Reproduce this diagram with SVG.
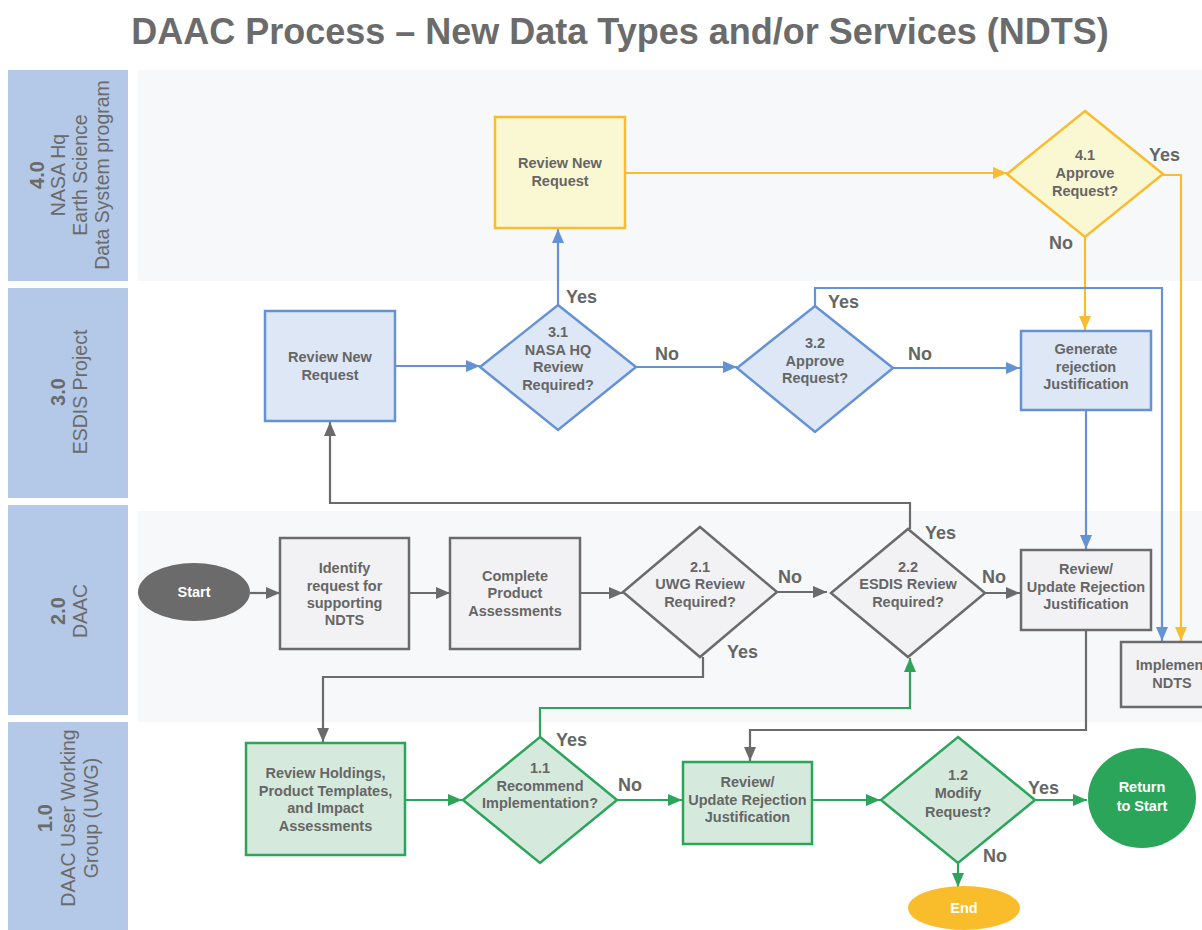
<svg xmlns="http://www.w3.org/2000/svg" width="1202" height="930" viewBox="0 0 1202 930">
<defs>
<style>
.title{font-family:"Liberation Sans",Arial,sans-serif;font-weight:bold;font-size:36px;fill:#6b6b6b}
.lane{fill:#b4c9e7}
.lbg{fill:#f7f8fa}
.ln{font-family:"Liberation Sans",Arial,sans-serif;font-size:19.5px;fill:#6b6b6b}
.lnb{font-family:"Liberation Sans",Arial,sans-serif;font-size:20px;font-weight:bold;fill:#6b6b6b}
.t{font-family:"Liberation Sans",Arial,sans-serif;font-size:14.5px;font-weight:bold;fill:#666;text-anchor:middle}
.tw{font-family:"Liberation Sans",Arial,sans-serif;font-size:14.5px;font-weight:bold;fill:#fff;text-anchor:middle}
.yn{font-family:"Liberation Sans",Arial,sans-serif;font-size:18px;font-weight:bold;fill:#666}
.gray{fill:#f2f2f4;stroke:#6b6b6b;stroke-width:2.5}
.blue{fill:#dde7f5;stroke:#6592d4;stroke-width:2.5}
.yel{fill:#faf8d3;stroke:#f8bc2e;stroke-width:2.5}
.grn{fill:#d5eadd;stroke:#2aa55a;stroke-width:2.5}
.cg{fill:none;stroke:#6b6b6b;stroke-width:2.2}
.cb{fill:none;stroke:#6592d4;stroke-width:2.2}
.cy{fill:none;stroke:#f8bc2e;stroke-width:2.2}
.cn{fill:none;stroke:#2aa55a;stroke-width:2.2}
</style>
<marker id="ag" markerUnits="userSpaceOnUse" markerWidth="14" markerHeight="12" refX="14" refY="6" orient="auto"><path d="M0,0 L14,6 L0,12 z" fill="#6b6b6b"/></marker>
<marker id="ab" markerUnits="userSpaceOnUse" markerWidth="14" markerHeight="12" refX="14" refY="6" orient="auto"><path d="M0,0 L14,6 L0,12 z" fill="#6592d4"/></marker>
<marker id="ay" markerUnits="userSpaceOnUse" markerWidth="14" markerHeight="12" refX="14" refY="6" orient="auto"><path d="M0,0 L14,6 L0,12 z" fill="#f8bc2e"/></marker>
<marker id="an" markerUnits="userSpaceOnUse" markerWidth="14" markerHeight="12" refX="14" refY="6" orient="auto"><path d="M0,0 L14,6 L0,12 z" fill="#2aa55a"/></marker>
</defs>
<rect width="1202" height="930" fill="#fff"/>
<text class="title" x="620" y="44" text-anchor="middle">DAAC Process – New Data Types and/or Services (NDTS)</text>

<g id="lanes">
<rect class="lbg" x="138" y="70" width="1064" height="211"/>
<rect class="lbg" x="138" y="511" width="1064" height="211"/>
<rect class="lane" x="8" y="70" width="120" height="211"/>
<rect class="lane" x="8" y="288" width="120" height="210"/>
<rect class="lane" x="8" y="505" width="120" height="210"/>
<rect class="lane" x="8" y="722" width="120" height="208"/>
<g transform="translate(0,175) rotate(-90)" text-anchor="middle">
<text class="lnb" x="0" y="44">4.0</text>
<text class="ln" x="0" y="65">NASA Hq</text>
<text class="ln" x="0" y="87">Earth Science</text>
<text class="ln" x="0" y="109">Data System program</text>
</g>
<g transform="translate(0,392) rotate(-90)" text-anchor="middle">
<text class="lnb" x="0" y="65">3.0</text>
<text class="ln" x="0" y="87">ESDIS Project</text>
</g>
<g transform="translate(0,611) rotate(-90)" text-anchor="middle">
<text class="lnb" x="0" y="65">2.0</text>
<text class="ln" x="0" y="87">DAAC</text>
</g>
<g transform="translate(0,818) rotate(-90)" text-anchor="middle">
<text class="lnb" x="0" y="52">1.0</text>
<text class="ln" x="0" y="75">DAAC User Working</text>
<text class="ln" x="0" y="98">Group (UWG)</text>
</g>
</g>

<g id="connectors">
<path class="cy" d="M625,173 H1007" marker-end="url(#ay)"/>
<path class="cy" d="M1085,237 V330" marker-end="url(#ay)"/>
<path class="cy" d="M1163,175 H1181 V641" marker-end="url(#ay)"/>
<path class="cb" d="M395,366 H480" marker-end="url(#ab)"/>
<path class="cb" d="M636,367 H737" marker-end="url(#ab)"/>
<path class="cb" d="M893,368 H1020" marker-end="url(#ab)"/>
<path class="cb" d="M558,305 V229" marker-end="url(#ab)"/>
<path class="cb" d="M815,306 V288 H1162 V641" marker-end="url(#ab)"/>
<path class="cb" d="M1086,410 V549" marker-end="url(#ab)"/>
<path class="cg" d="M250,593 H280" marker-end="url(#ag)"/>
<path class="cg" d="M409,593 H450" marker-end="url(#ag)"/>
<path class="cg" d="M580,593 H623" marker-end="url(#ag)"/>
<path class="cg" d="M777,592 H827" marker-end="url(#ag)"/>
<path class="cg" d="M985,593 H1020" marker-end="url(#ag)"/>
<path class="cg" d="M703,657 V677 H323 V742" marker-end="url(#ag)"/>
<path class="cg" d="M910,529 V503 H330 V422" marker-end="url(#ag)"/>
<path class="cg" d="M1086,630 V730 H750 V761" marker-end="url(#ag)"/>
<path class="cn" d="M405,800 H462" marker-end="url(#an)"/>
<path class="cn" d="M617,800 H682" marker-end="url(#an)"/>
<path class="cn" d="M812,800 H880" marker-end="url(#an)"/>
<path class="cn" d="M1035,800 H1087" marker-end="url(#an)"/>
<path class="cn" d="M958,863 V887" marker-end="url(#an)"/>
<path class="cn" d="M540,737 V708 H910 V658" marker-end="url(#an)"/>
</g>

<g id="labels">
<text class="yn" x="1149" y="161">Yes</text>
<text class="yn" x="1049" y="249">No</text>
<text class="yn" x="566" y="303">Yes</text>
<text class="yn" x="828" y="308">Yes</text>
<text class="yn" x="655" y="360">No</text>
<text class="yn" x="908" y="360">No</text>
<text class="yn" x="778" y="583">No</text>
<text class="yn" x="727" y="658">Yes</text>
<text class="yn" x="925" y="539">Yes</text>
<text class="yn" x="982" y="583">No</text>
<text class="yn" x="556" y="746">Yes</text>
<text class="yn" x="618" y="791">No</text>
<text class="yn" x="1028" y="794">Yes</text>
<text class="yn" x="983" y="862">No</text>
</g>

<g id="n4-review">
<rect class="yel" x="495" y="117" width="130" height="111"/>
<text class="t" x="560" y="168">Review New</text>
<text class="t" x="560" y="186">Request</text>
</g>
<g id="n4-1">
<polygon class="yel" points="1085,111 1163,174 1085,237 1007,174"/>
<text class="t" x="1085" y="160">4.1</text>
<text class="t" x="1085" y="178">Approve</text>
<text class="t" x="1085" y="196">Request?</text>
</g>

<g id="n3-review">
<rect class="blue" x="265" y="311" width="130" height="110"/>
<text class="t" x="330" y="362">Review New</text>
<text class="t" x="330" y="380">Request</text>
</g>
<g id="n3-1">
<polygon class="blue" points="558,305 636,367 558,430 480,367"/>
<text class="t" x="558" y="337">3.1</text>
<text class="t" x="558" y="355">NASA HQ</text>
<text class="t" x="558" y="372">Review</text>
<text class="t" x="558" y="390">Required?</text>
</g>
<g id="n3-2">
<polygon class="blue" points="815,306 893,368 815,432 737,368"/>
<text class="t" x="815" y="348">3.2</text>
<text class="t" x="815" y="366">Approve</text>
<text class="t" x="815" y="383">Request?</text>
</g>
<g id="n3-generate">
<rect class="blue" x="1021" y="331" width="130" height="79"/>
<text class="t" x="1086" y="354">Generate</text>
<text class="t" x="1086" y="372">rejection</text>
<text class="t" x="1086" y="389">Justification</text>
</g>

<g id="n2-start">
<ellipse cx="194" cy="592" rx="56" ry="29" fill="#6b6b6b"/>
<text class="tw" x="194" y="597">Start</text>
</g>
<g id="n2-identify">
<rect class="gray" x="280" y="538" width="129" height="111"/>
<text class="t" x="344.5" y="573">Identify</text>
<text class="t" x="344.5" y="591">request for</text>
<text class="t" x="344.5" y="608">supporting</text>
<text class="t" x="344.5" y="625">NDTS</text>
</g>
<g id="n2-complete">
<rect class="gray" x="450" y="538" width="130" height="111"/>
<text class="t" x="515" y="581">Complete</text>
<text class="t" x="515" y="598">Product</text>
<text class="t" x="515" y="616">Assessments</text>
</g>
<g id="n2-1">
<polygon class="gray" points="700,527 777,592 700,657 623,592"/>
<text class="t" x="700" y="572">2.1</text>
<text class="t" x="700" y="589">UWG Review</text>
<text class="t" x="700" y="607">Required?</text>
</g>
<g id="n2-2">
<polygon class="gray" points="908,529 985,593 908,657 831,593"/>
<text class="t" x="908" y="572">2.2</text>
<text class="t" x="908" y="589">ESDIS Review</text>
<text class="t" x="908" y="607">Required?</text>
</g>
<g id="n2-reviewupdate">
<rect class="gray" x="1021" y="550" width="130" height="80"/>
<text class="t" x="1086" y="574">Review/</text>
<text class="t" x="1086" y="592">Update Rejection</text>
<text class="t" x="1086" y="609">Justification</text>
</g>
<g id="n2-implement">
<rect class="gray" x="1121" y="642" width="103" height="65"/>
<text class="t" x="1172" y="670">Implement</text>
<text class="t" x="1172" y="688">NDTS</text>
</g>

<g id="n1-holdings">
<rect class="grn" x="246" y="743" width="159" height="112"/>
<text class="t" x="325.5" y="778">Review Holdings,</text>
<text class="t" x="325.5" y="796">Product Templates,</text>
<text class="t" x="325.5" y="813">and Impact</text>
<text class="t" x="325.5" y="831">Assessments</text>
</g>
<g id="n1-1">
<polygon class="grn" points="540,737 617,800 540,863 463,800"/>
<text class="t" x="540" y="773">1.1</text>
<text class="t" x="540" y="791">Recommend</text>
<text class="t" x="540" y="808">Implementation?</text>
</g>
<g id="n1-reviewupdate">
<rect class="grn" x="683" y="762" width="129" height="82"/>
<text class="t" x="747.5" y="787">Review/</text>
<text class="t" x="747.5" y="805">Update Rejection</text>
<text class="t" x="747.5" y="822">Justification</text>
</g>
<g id="n1-2">
<polygon class="grn" points="958,737 1035,800 958,863 881,800"/>
<text class="t" x="958" y="780">1.2</text>
<text class="t" x="958" y="798">Modify</text>
<text class="t" x="958" y="817">Request?</text>
</g>
<g id="n1-return">
<ellipse cx="1142" cy="798" rx="54" ry="50" fill="#2aa55a"/>
<text class="tw" x="1142" y="792">Return</text>
<text class="tw" x="1142" y="811">to Start</text>
</g>
<g id="n1-end">
<ellipse cx="964" cy="908" rx="56" ry="22" fill="#f9bd2b"/>
<text class="tw" x="964" y="913">End</text>
</g>
</svg>
